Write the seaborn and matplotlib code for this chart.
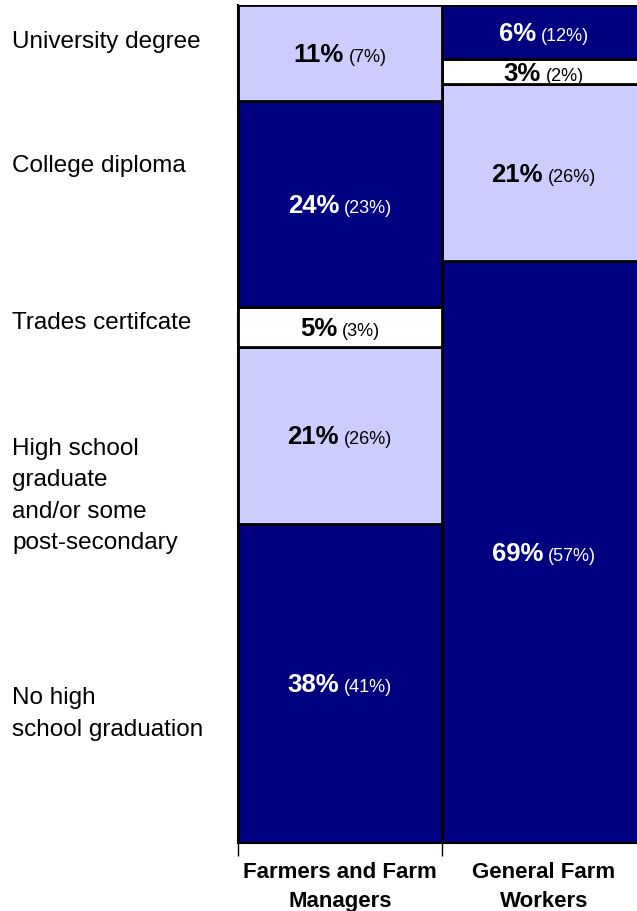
import matplotlib
matplotlib.use("Agg")
import matplotlib.pyplot as plt
import pandas as pd
import seaborn as sns

groups = ["Farmers and Farm\nManagers", "General Farm\nWorkers"]
levels = ["No high school graduation", "High school graduate", "Trades certificate",
          "College diploma", "University degree"]
level_colors = ["#000080", "#CCCCFF", "#FFFFFF", "#000080", "#CCCCFF"]

# segment heights, bottom to top (share of each column)
farmers_share = [38.1, 21.1, 4.8, 24.5, 11.5]
workers_share = [69.4, 21.2, 2.9, 6.5, 0.0]
farmers_main = ["38%", "21%", "5%", "24%", "11%"]
farmers_paren = ["(41%)", "(26%)", "(3%)", "(23%)", "(7%)"]
workers_main = ["69%", "21%", "3%", "6%", ""]
workers_paren = ["(57%)", "(26%)", "(2%)", "(12%)", ""]

side_labels = ["University degree", "College diploma", "Trades certifcate",
               "High school\ngraduate\nand/or some\npost-secondary",
               "No high\nschool graduation"]
side_y_px = [42, 166, 323, 496, 714]

rows = []
for g, shares in zip(groups, [farmers_share, workers_share]):
    for lev, s in zip(levels, shares):
        if s > 0:
            rows.append({"group": g, "level": lev, "share": s})
df = pd.DataFrame(rows)

sns.set_theme(style="white")
plt.rcParams["font.family"] = ["Liberation Sans", "DejaVu Sans"]

W, H = 637, 911
fig = plt.figure(figsize=(W / 100, H / 100), dpi=100)
ax = fig.add_axes([238 / W, 68 / H, 408 / W, 838 / H])

sns.histplot(df, x="group", weights="share", hue="level", hue_order=levels[::-1],
             multiple="stack", discrete=True, shrink=1,
             palette=dict(zip(levels, level_colors)), alpha=1,
             edgecolor="black", linewidth=2, legend=False, ax=ax)

ax.set_xlim(-0.5, 1.5)
ax.set_ylim(0, 100)
ax.set_yticks([])
ax.set_xlabel("")
ax.set_ylabel("")
ax.set_xticks([0, 1], labels=groups)
ax.set_xticks([-0.5, 0.5, 1.5], minor=True)
ax.tick_params(axis="x", which="major", length=0, pad=14, labelsize=16, labelcolor="black")
ax.tick_params(axis="x", which="minor", bottom=True, length=9, width=1, color="black")
for t in ax.get_xticklabels():
    t.set_fontweight("bold")
    t.set_linespacing(1.5)
for s in ["top", "right"]:
    ax.spines[s].set_visible(False)
for s in ["left", "bottom"]:
    ax.spines[s].set_color("black")
    ax.spines[s].set_linewidth(1.5)

for txt, y in zip(side_labels, side_y_px):
    fig.text(12 / W, 1 - y / H, txt, ha="left", va="center", fontsize=17.5,
             linespacing=1.55, color="black")

fig.canvas.draw()
r = fig.canvas.get_renderer()
for xi, shares, mains, parens in [(0, farmers_share, farmers_main, farmers_paren),
                                  (1, workers_share, workers_main, workers_paren)]:
    bottom = 0
    for i, s in enumerate(shares):
        if s <= 0:
            continue
        yc = bottom + s / 2
        bottom += s
        col = "white" if level_colors[i] == "#000080" else "black"
        t1 = ax.annotate(mains[i], (xi, yc), xytext=(0, 0), textcoords="offset pixels",
                         ha="left", va="baseline", fontsize=18.5, fontweight="bold", color=col)
        t2 = ax.annotate(parens[i], (xi, yc), xytext=(0, 0), textcoords="offset pixels",
                         ha="left", va="baseline", fontsize=13, color=col)
        w1 = t1.get_window_extent(renderer=r).width
        w2 = t2.get_window_extent(renderer=r).width
        gap = 5
        total = w1 + gap + w2
        dy = -9
        t1.xyann = (-total / 2, dy)
        t2.xyann = (-total / 2 + w1 + gap, dy)

fig.savefig("out.png", dpi=100)
